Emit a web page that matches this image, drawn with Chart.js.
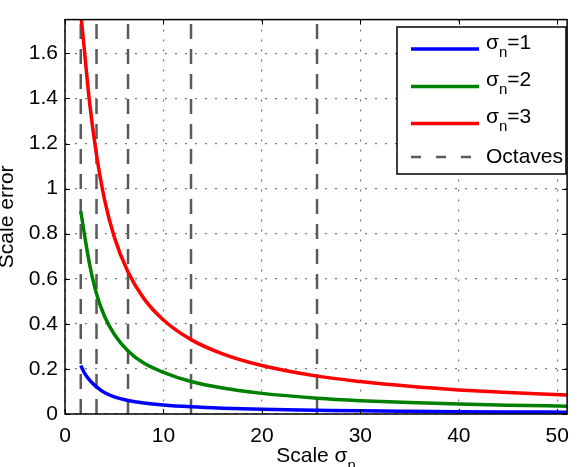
<!DOCTYPE html>
<html>
<head>
<meta charset="utf-8">
<script src="https://cdn.jsdelivr.net/npm/chart.js@4/dist/chart.umd.min.js"></script>
<style>
  html, body { margin: 0; padding: 0; background: #fff; }
  canvas { display: block; }
</style>
</head>
<body>
<canvas id="grafico" width="579" height="467"></canvas>
<script>
// dados
const escalas = [1.6, 2, 2.5, 3.2, 4, 5, 6.4, 8, 10, 12.8, 16, 20, 25.6, 30, 35, 40, 45, 51];
const erroSigma1 = [0.215, 0.18, 0.15, 0.12, 0.095, 0.076, 0.06, 0.049, 0.04, 0.032, 0.026, 0.021, 0.017, 0.014, 0.012, 0.0105, 0.0093, 0.0083];
const erroSigma2 = [0.90, 0.79, 0.664, 0.534, 0.435, 0.354, 0.28, 0.226, 0.185, 0.144, 0.115, 0.0915, 0.0703, 0.0593, 0.0506, 0.0443, 0.0393, 0.0349];
const erroSigma3 = [1.78, 1.6, 1.38, 1.15, 0.955, 0.786, 0.63, 0.513, 0.417, 0.33, 0.267, 0.215, 0.168, 0.144, 0.123, 0.107, 0.095, 0.084];
const oitavas = [1.6, 3.2, 6.4, 12.8, 25.6];
const rotulos = ['σ_n=1', 'σ_n=2', 'σ_n=3', 'Octaves'];
const ticksX = [0, 10, 20, 30, 40, 50];
const ticksY = [0, 0.2, 0.4, 0.6, 0.8, 1, 1.2, 1.4, 1.6];
const limiteX = [0, 51];
const limiteY = [0, 1.75];

const FONTE = '"Liberation Sans", Arial, Helvetica, sans-serif';
const TAM = 21;

// texto com subscrito: 'σ_n=1' -> σ, n subscrito, =1
function textoRico(ctx, texto, x, y, tam, alinhar) {
    const partes = [];
    for (let i = 0; i < texto.length; i++) {
        if (texto[i] === '_' && i + 1 < texto.length) {
            partes.push({ t: texto[i + 1], sub: true });
            i++;
        } else if (partes.length && !partes[partes.length - 1].sub) {
            partes[partes.length - 1].t += texto[i];
        } else {
            partes.push({ t: texto[i], sub: false });
        }
    }
    const tamSub = Math.round(tam * 0.72);
    let total = 0;
    partes.forEach(p => {
        ctx.font = (p.sub ? tamSub : tam) + 'px ' + FONTE;
        p.w = ctx.measureText(p.t).width;
        total += p.w;
    });
    let cx = alinhar === 'center' ? x - total / 2 : x;
    ctx.textBaseline = 'middle';
    ctx.textAlign = 'left';
    partes.forEach(p => {
        ctx.font = (p.sub ? tamSub : tam) + 'px ' + FONTE;
        ctx.fillText(p.t, cx, p.sub ? y + tam * 0.45 : y);
        cx += p.w;
    });
}

const pontos = (ys) => escalas.map((s, i) => ({ x: s, y: ys[i] }));

const datasets = [
    { label: rotulos[0], data: pontos(erroSigma1), borderColor: '#0000ff', noLegenda: true },
    { label: rotulos[1], data: pontos(erroSigma2), borderColor: '#008000', noLegenda: true },
    { label: rotulos[2], data: pontos(erroSigma3), borderColor: '#ff0000', noLegenda: true }
].map(d => Object.assign(d, {
    borderWidth: 3.5,
    pointRadius: 0,
    fill: false,
    cubicInterpolationMode: 'monotone'
}));

oitavas.forEach((s, i) => {
    datasets.push({
        label: rotulos[3],
        data: [{ x: s, y: limiteY[0] }, { x: s, y: limiteY[1] }],
        borderColor: '#5a5a5a',
        borderWidth: 2.5,
        borderDash: [15, 10],
        pointRadius: 0,
        fill: false,
        noLegenda: i === 0,
        tracejado: true
    });
});

// moldura, ticks internos, título do eixo x e legenda
const pluginMoldura = {
    id: 'moldura',
    afterDatasetsDraw(chart) {
        const { ctx, chartArea: a, scales: { x, y } } = chart;
        ctx.save();
        ctx.strokeStyle = '#000';
        ctx.lineWidth = 1;
        ctx.beginPath();
        ticksX.forEach(v => {
            const px = Math.round(x.getPixelForValue(v)) + 0.5;
            ctx.moveTo(px, a.bottom); ctx.lineTo(px, a.bottom - 5);
            ctx.moveTo(px, a.top); ctx.lineTo(px, a.top + 5);
        });
        ticksY.forEach(v => {
            const py = Math.round(y.getPixelForValue(v)) + 0.5;
            ctx.moveTo(a.left, py); ctx.lineTo(a.left + 5, py);
            ctx.moveTo(a.right, py); ctx.lineTo(a.right - 5, py);
        });
        ctx.stroke();
        ctx.lineWidth = 1.5;
        ctx.strokeRect(a.left, a.top, a.right - a.left, a.bottom - a.top);
        ctx.restore();
    },
    afterDraw(chart) {
        const { ctx, chartArea: a } = chart;
        ctx.save();
        ctx.fillStyle = '#000';
        textoRico(ctx, 'Scale σ_n', (a.left + a.right) / 2, 456, TAM, 'center');

        // legenda
        const caixa = { x: 397, y: 27, w: 169, h: 147 };
        ctx.fillStyle = '#fff';
        ctx.fillRect(caixa.x, caixa.y, caixa.w, caixa.h);
        ctx.strokeStyle = '#000';
        ctx.lineWidth = 1.5;
        ctx.strokeRect(caixa.x, caixa.y, caixa.w, caixa.h);
        const linhasY = [49, 86.5, 123.5, 157];
        const itens = chart.data.datasets.filter(d => d.noLegenda);
        itens.forEach((d, i) => {
            const ly = linhasY[i];
            ctx.strokeStyle = d.borderColor;
            ctx.lineWidth = d.tracejado ? 2.5 : 3.5;
            ctx.setLineDash(d.tracejado ? [10, 15] : []);
            ctx.beginPath();
            ctx.moveTo(411, ly);
            ctx.lineTo(479, ly);
            ctx.stroke();
            ctx.setLineDash([]);
            ctx.fillStyle = '#000';
            const temSub = d.label.indexOf('_') >= 0;
            textoRico(ctx, d.label, 486, temSub ? ly - 6 : ly, TAM, 'left');
        });
        ctx.restore();
    }
};

const ctx = document.getElementById('grafico').getContext('2d');
new Chart(ctx, {
    type: 'line',
    data: { datasets: datasets },
    options: {
        responsive: false,
        animation: false,
        devicePixelRatio: 1,
        layout: { padding: { top: 16, right: 3, left: 0, bottom: 0 } },
        plugins: {
            legend: { display: false },
            tooltip: { enabled: false }
        },
        scales: {
            x: {
                type: 'linear',
                min: limiteX[0],
                max: limiteX[1],
                afterBuildTicks: (eixo) => { eixo.ticks = ticksX.map(v => ({ value: v })); },
                afterFit: (eixo) => { eixo.height = 53; },
                ticks: {
                    padding: 10,
                    maxRotation: 0,
                    color: '#000',
                    font: { family: FONTE, size: TAM }
                },
                grid: { color: '#777', lineWidth: 1.2, drawTicks: false },
                border: { display: false, dash: [2, 8] }
            },
            y: {
                type: 'linear',
                min: limiteY[0],
                max: limiteY[1],
                afterBuildTicks: (eixo) => { eixo.ticks = ticksY.map(v => ({ value: v })); },
                afterFit: (eixo) => { eixo.width = 65; },
                ticks: {
                    padding: 7,
                    color: '#000',
                    font: { family: FONTE, size: TAM },
                    callback: (v) => String(Math.round(v * 10) / 10)
                },
                grid: { color: '#777', lineWidth: 1.2, drawTicks: false },
                border: { display: false, dash: [2, 8] },
                title: {
                    display: true,
                    text: 'Scale error',
                    color: '#000',
                    font: { family: FONTE, size: TAM, lineHeight: 1 },
                    padding: { top: -3, bottom: 0 }
                }
            }
        }
    },
    plugins: [pluginMoldura]
});
</script>
</body>
</html>
